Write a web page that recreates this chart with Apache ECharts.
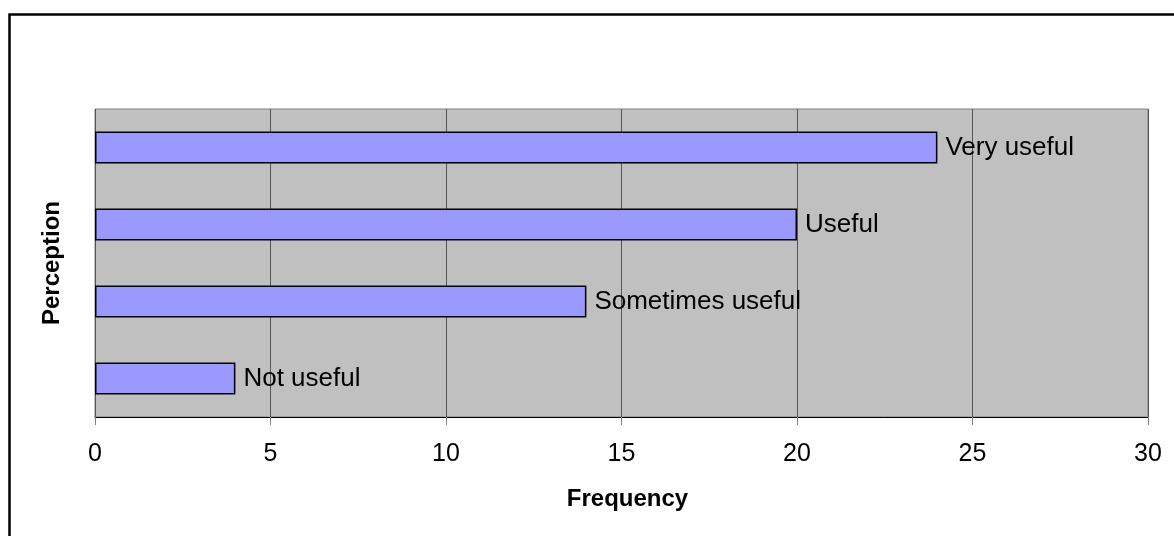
<!DOCTYPE html>
<html>
<head>
<meta charset="utf-8">
<script src="https://cdn.jsdelivr.net/npm/echarts@6/dist/echarts.min.js"></script>
<style>
  html, body { margin: 0; padding: 0; background: #ffffff; }
  #chart { width: 1174px; height: 536px; }
</style>
</head>
<body>
<div id="chart"></div>
<script>
// Perception categories, bottom to top on the vertical axis
const categories = ['Not useful', 'Sometimes useful', 'Useful', 'Very useful'];
// Number of responses per category
const frequencies = [4, 14, 20, 24];
// Frequency axis range
const xMin = 0;
const xMax = 30;
const xStep = 5;

const chart = echarts.init(document.getElementById('chart'), null, { renderer: 'canvas' });
const font = '"Liberation Sans", Arial, sans-serif';

chart.setOption({
  animation: false,
  backgroundColor: '#ffffff',
  graphic: [{
    type: 'rect',
    left: 7, top: 12,
    shape: { width: 1300, height: 700 },
    style: { fill: 'none', stroke: '#000000', lineWidth: 2.5 },
    silent: true
  }],
  grid: {
    left: 95, right: 26, top: 109, bottom: 119,
    show: true,
    backgroundColor: '#C0C0C0',
    borderColor: '#808080',
    borderWidth: 1
  },
  xAxis: {
    type: 'value',
    min: xMin, max: xMax, interval: xStep,
    name: 'Frequency',
    nameLocation: 'middle',
    nameGap: 70,
    nameTextStyle: { fontFamily: font, fontSize: 24, fontWeight: 'bold', color: '#000000', padding: [0, 0, 0, 12] },
    axisLine: { show: true, lineStyle: { color: '#000000', width: 1 } },
    axisTick: { show: true, length: 8, lineStyle: { color: '#808080', width: 1 } },
    axisLabel: { fontFamily: font, fontSize: 25, color: '#000000', margin: 25 },
    splitLine: { show: true, lineStyle: { color: '#555555', width: 1 } }
  },
  yAxis: {
    type: 'category',
    data: categories,
    name: 'Perception',
    nameLocation: 'middle',
    nameGap: 31,
    nameRotate: 90,
    nameTextStyle: { fontFamily: font, fontSize: 24, fontWeight: 'bold', color: '#000000' },
    axisLine: { show: false },
    axisTick: { show: false },
    axisLabel: { show: false },
    splitLine: { show: false }
  },
  series: [{
    type: 'bar',
    data: frequencies,
    barWidth: 32,
    itemStyle: { color: '#9999FF', borderColor: '#000000', borderWidth: 1.5 },
    label: {
      show: true,
      position: 'right',
      distance: 8,
      formatter: (p) => p.name,
      fontFamily: font,
      fontSize: 26,
      color: '#000000'
    },
    z: 3
  }]
});
</script>
</body>
</html>
